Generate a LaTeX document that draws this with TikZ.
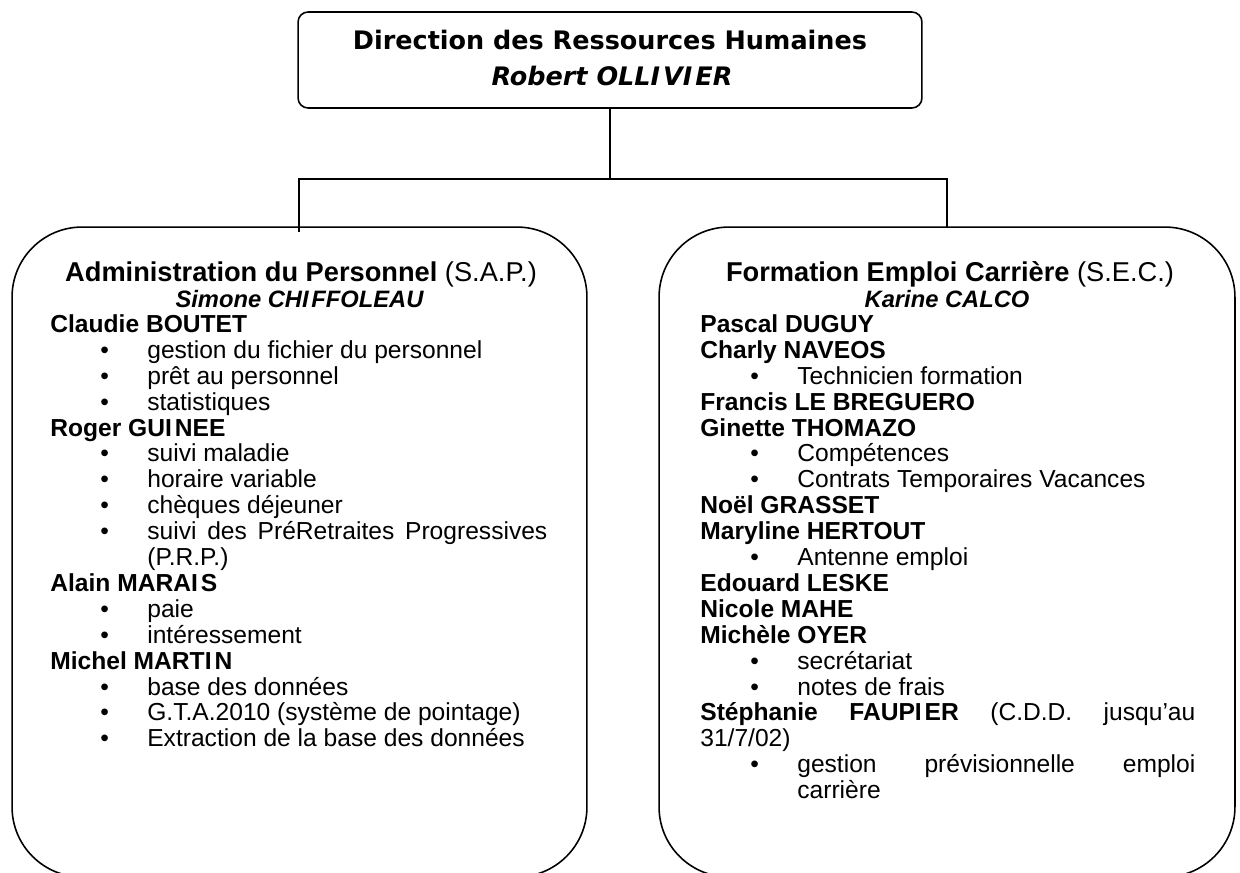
\documentclass[tikz,border=0pt]{standalone}
\usepackage{fontspec}
\setmainfont{Liberation Sans}
\newfontfamily\wideb{DejaVu Sans}
\newlength\px
\setlength\px{0.02cm}
\newcommand\bul[1]{\hspace*{50\px}\makebox[47\px][l]{\textbullet}#1}
\newcommand\gI{I\kern0.12em}
\begin{document}
\begin{tikzpicture}[x=0.02cm,y=-0.02cm,
  conn/.style={line width=0.9pt},
  box/.style={draw, line width=0.9pt, inner sep=0pt},
  body/.style={anchor=base west, inner sep=0pt, font=\fontsize{14}{16}\selectfont},
  head/.style={anchor=base, inner sep=0pt, font=\fontsize{15.5}{17}\selectfont},
  sub/.style={anchor=base, inner sep=0pt, font=\fontsize{13.5}{15}\selectfont\bfseries\itshape},
  ttl/.style={anchor=base, inner sep=0pt, font=\wideb\fontsize{14.5}{16}\selectfont\bfseries},
]
\useasboundingbox (0,0) rectangle (1240,872);
\fill[white] (0,0) rectangle (1240,872);

% top box
\node[box, rounded corners=0.2cm, minimum width=12.48cm, minimum height=1.92cm] (drh) at (610,60) {};
\node[ttl] (t1) at (610,50) {Direction des Ressources Humaines};
\node[ttl, font=\wideb\fontsize{14.5}{16}\selectfont\bfseries\itshape] (t2) at (612,85) {Robert OLL\gI V\gI ER};

% section boxes
\node[box, rounded corners=1.4cm, minimum width=11.5cm, minimum height=13cm] (sap) at (299.5,552) {};
\node[box, rounded corners=1.4cm, minimum width=11.52cm, minimum height=13cm] (sec) at (947,552) {};

% connectors
\coordinate (j) at (610,179);
\coordinate (jl) at (299,232);
\coordinate (jr) at (947,227);
\draw[conn] (drh.south) -- (j);
\draw[conn] (jl) -- (jl |- j) -- (jr |- j) -- (jr);

% left section
\node[head] (sapT) at (301,281) {\textbf{Administration du Personnel} (S.A.P.)};
\node[sub] (sapC) at (299.5,307) {Simone CH\gI FFOLEAU};
\foreach [count=\i] \t in {
  {\textbf{Claudie BOUTET}},
  {\bul{gestion du fichier du personnel}},
  {\bul{prêt au personnel}},
  {\bul{statistiques}},
  {\textbf{Roger GU\gI NEE}},
  {\bul{suivi maladie}},
  {\bul{horaire variable}},
  {\bul{chèques déjeuner}},
  {\bul{\makebox[400\px]{suivi\hfill des\hfill PréRetraites\hfill Progressives}}},
  {\hspace*{97\px}(P.R.P.)},
  {\textbf{Alain MARA\gI S}},
  {\bul{paie}},
  {\bul{intéressement}},
  {\textbf{Michel MART\gI N}},
  {\bul{base des données}},
  {\bul{G.T.A.2010 (système de pointage)}},
  {\bul{Extraction de la base des données}}}
  \node[body] (sap\i) at (50,{332.4+25.9*(\i-1)}) {\t};

% right section
\node[head] (secT) at (950,281) {\textbf{Formation Emploi Carrière} (S.E.C.)};
\node[sub] (secC) at (947,307) {Karine CALCO};
\foreach [count=\i] \t in {
  {\textbf{Pascal DUGUY}},
  {\textbf{Charly NAVEOS}},
  {\bul{Technicien formation}},
  {\textbf{Francis LE BREGUERO}},
  {\textbf{Ginette THOMAZO}},
  {\bul{Compétences}},
  {\bul{Contrats Temporaires Vacances}},
  {\textbf{Noël GRASSET}},
  {\textbf{Maryline HERTOUT}},
  {\bul{Antenne emploi}},
  {\textbf{Edouard LESKE}},
  {\textbf{Nicole MAHE}},
  {\textbf{Michèle OYER}},
  {\bul{secrétariat}},
  {\bul{notes de frais}},
  {\makebox[495\px]{\textbf{Stéphanie}\hfill\textbf{FAUP\gI ER}\hfill(C.D.D.\hfill jusqu’au}},
  {{31/7/02)}},
  {\bul{\makebox[398\px]{gestion\hfill prévisionnelle\hfill emploi}}},
  {\hspace*{97\px}carrière}}
  \node[body] (sec\i) at (700,{332.4+25.9*(\i-1)}) {\t};
\end{tikzpicture}
\end{document}
